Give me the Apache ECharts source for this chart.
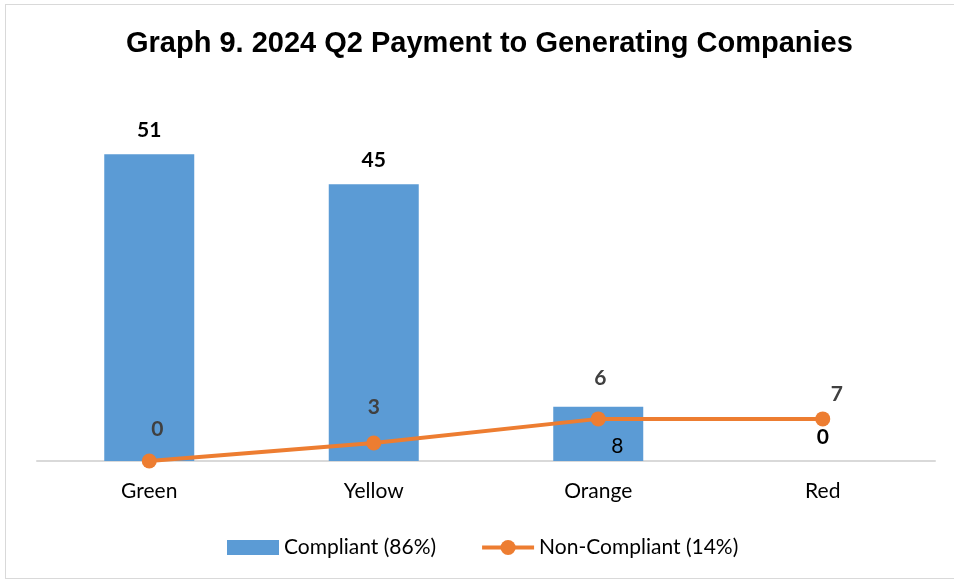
<!DOCTYPE html>
<html>
<head>
<meta charset="utf-8">
<script src="https://cdn.jsdelivr.net/npm/echarts@6/dist/echarts.min.js"></script>
<style>
html,body{margin:0;padding:0;background:#fff;}
#frame{position:absolute;left:5px;top:4px;width:960px;height:575px;border:1px solid #d9d9d9;box-sizing:border-box;}
#chart{position:absolute;left:0;top:0;width:954px;height:581px;}
</style>
</head>
<body>
<div id="frame"></div>
<div id="chart"></div>
<script>
const categories = ['Green', 'Yellow', 'Orange', 'Red'];
const compliantValues = [51, 46, 9, 0];
const compliantLabels = ['51', '45', '8', '0'];
const nonCompliantValues = [0, 3, 7, 7];
const nonCompliantLabels = ['0', '3', '6', '7'];
const seriesNames = ['Compliant (86%)', 'Non-Compliant (14%)'];

// label placement styles (per point)
const barLabelStyles = [
  {position: 'top', distance: 13, fontWeight: 'bold', color: '#000'},
  {position: 'top', distance: 13, fontWeight: 'bold', color: '#000'},
  {position: 'inside', offset: [19, 12], fontWeight: 'normal', color: '#000'},
  {position: 'top', distance: 13, fontWeight: 'bold', color: '#000'}
];
const lineLabelOffsets = [[8, -32], [0, -36], [2, -41], [14, -25]];

const FONT = 'Lato, "Open Sans", sans-serif';
const chart = echarts.init(document.getElementById('chart'));
chart.setOption({
  backgroundColor: 'transparent',
  animation: false,
  title: {
    text: 'Graph 9. 2024 Q2 Payment to Generating Companies',
    left: 121, top: 24,
    textStyle: {fontFamily: '"Liberation Sans", Arial, sans-serif', fontWeight: 'bold', fontSize: 29, color: '#000'}
  },
  legend: {
    top: 532, left: 222,
    itemWidth: 52, itemHeight: 19, itemGap: 44,
    textStyle: {fontFamily: FONT, fontSize: 21, color: '#000'},
    data: [
      {name: seriesNames[0], icon: 'path://M0,0M0,19M0,2h52v15h-52z'},
      {name: seriesNames[1], lineStyle: {width: 4}}
    ]
  },
  grid: {left: 37, right: 19, top: 100, bottom: 120},
  xAxis: {
    type: 'category', data: categories,
    axisLine: {lineStyle: {color: '#d9d9d9', width: 2}},
    axisTick: {show: false},
    axisLabel: {fontFamily: FONT, fontSize: 21, color: '#000', margin: 20}
  },
  yAxis: {type: 'value', min: 0, max: 60, show: false, splitLine: {show: false}},
  series: [
    {
      name: seriesNames[0], type: 'bar', barWidth: 90,
      itemStyle: {color: '#5B9BD5'},
      data: compliantValues.map((v, i) => ({
        value: v,
        label: Object.assign({show: true, formatter: compliantLabels[i], fontFamily: FONT, fontSize: 21}, barLabelStyles[i])
      }))
    },
    {
      name: seriesNames[1], type: 'line',
      symbol: 'circle', symbolSize: 15,
      lineStyle: {color: '#ED7D31', width: 4},
      itemStyle: {color: '#ED7D31'},
      data: nonCompliantValues.map((v, i) => ({
        value: v,
        label: {show: true, position: 'inside', offset: lineLabelOffsets[i], formatter: nonCompliantLabels[i],
          fontFamily: FONT, fontSize: 21, fontWeight: 'bold', color: '#404040'}
      }))
    }
  ]
});
</script>
</body>
</html>
